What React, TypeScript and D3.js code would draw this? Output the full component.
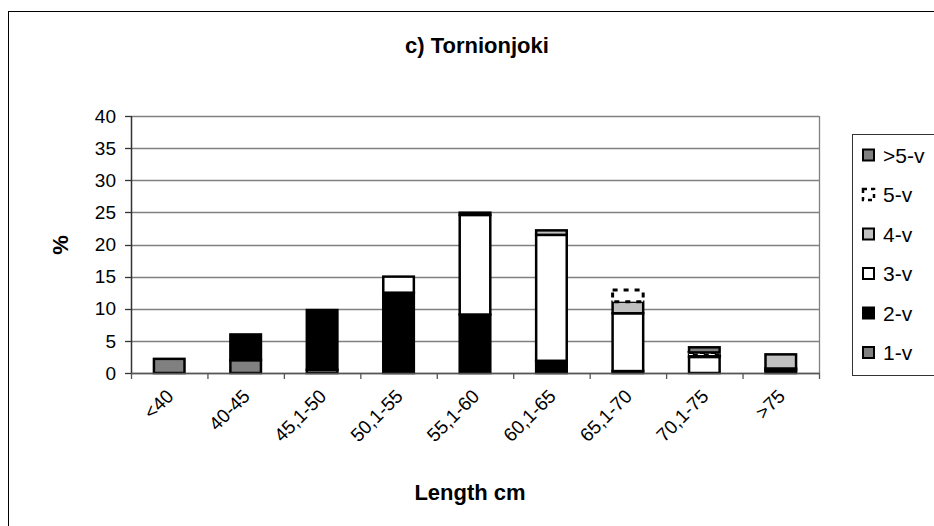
import React from "react";
import * as d3 from "d3";

const categories = ["<40", "40-45", "45,1-50", "50,1-55", "55,1-60", "60,1-65", "65,1-70", "70,1-75", ">75"];
const series = ["1-v", "2-v", "3-v", "4-v", "5-v", ">5-v"];
const v1 = [2.2, 2.0, 0.5, 0, 0, 0, 0, 0, 0];
const v2 = [0, 4.0, 9.3, 12.5, 9.1, 1.9, 0.3, 0, 0.4];
const v3 = [0, 0, 0, 2.5, 15.5, 19.6, 9.0, 2.5, 0.3];
const v4 = [0, 0, 0, 0, 0.35, 0.7, 1.8, 0.3, 2.2];
const v5 = [0, 0, 0, 0, 0, 0, 1.8, 0.4, 0];
const v6 = [0, 0, 0, 0, 0, 0, 0, 0.8, 0];
const yTicks = [0, 5, 10, 15, 20, 25, 30, 35, 40];

const fills = ["#808080", "#000000", "#ffffff", "#c0c0c0", "#ffffff", "#808080"];

export default function App() {
  const W = 934, H = 526;
  const left = 131, right = 819, top = 116, bottom = 373;
  const x = d3.scaleBand().domain(categories).range([left, right]).paddingInner(0.6).paddingOuter(0.3);
  const y = d3.scaleLinear().domain([0, 40]).range([bottom, top]);
  const step = x.step();

  const rows = categories.map((c, i) => ({ cat: c, "1-v": v1[i], "2-v": v2[i], "3-v": v3[i], "4-v": v4[i], "5-v": v5[i], ">5-v": v6[i] }));
  const stacked = d3.stack().keys(series)(rows as any);

  const font = "'Liberation Sans', Arial, sans-serif";
  const legendOrder = [5, 4, 3, 2, 1, 0];

  return (
    <svg width={W} height={H} style={{ position: "absolute", left: 0, top: 0, background: "#fff" }} fontFamily={font}>
      <rect x={8.5} y={11.5} width={1000} height={600} fill="#fff" stroke="#000" strokeWidth={1} />
      <text x={477} y={53} textAnchor="middle" fontSize={22} fontWeight="bold">c) Tornionjoki</text>
      {/* gridlines */}
      {yTicks.map((t) => (
        <line key={t} x1={left} x2={right} y1={Math.round(y(t)) + 0.5} y2={Math.round(y(t)) + 0.5} stroke="#808080" strokeWidth={1.3} />
      ))}
      <line x1={right + 0.5} x2={right + 0.5} y1={top} y2={bottom} stroke="#808080" strokeWidth={1.3} />
      {/* bars */}
      {stacked.map((s, si) => (
        <g key={series[si]}>
          {s.map((d, ci) => {
            const h = d[1] - d[0];
            if (h <= 0) return null;
            const bx = x(categories[ci])!;
            const y0 = y(d[0]), y1 = y(d[1]);
            return (
              <rect key={ci} x={bx} y={y1} width={x.bandwidth()} height={y0 - y1}
                fill={fills[si]} stroke="#000" strokeWidth={si === 4 ? 3 : 2.5}
                strokeDasharray={si === 4 ? "5 6" : undefined} />
            );
          })}
        </g>
      ))}
      {/* axes */}
      <line x1={left + 0.5} x2={left + 0.5} y1={top} y2={bottom} stroke="#333" strokeWidth={1.5} />
      <line x1={left} x2={right} y1={bottom + 0.5} y2={bottom + 0.5} stroke="#555" strokeWidth={1.5} />
      {yTicks.map((t) => (
        <g key={t}>
          <line x1={left - 6} x2={left} y1={Math.round(y(t)) + 0.5} y2={Math.round(y(t)) + 0.5} stroke="#333" strokeWidth={1.3} />
          <text x={left - 15} y={y(t)} dy="0.35em" textAnchor="end" fontSize={19}>{t}</text>
        </g>
      ))}
      {d3.range(categories.length + 1).map((i) => (
        <line key={i} x1={left + i * step + 0.5} x2={left + i * step + 0.5} y1={bottom} y2={bottom + 6} stroke="#555" strokeWidth={1.3} />
      ))}
      {categories.map((c) => {
        const cx = x(c)! + x.bandwidth() / 2 - 4;
        const cy = bottom + 15;
        return (
          <text key={c} transform={`translate(${cx},${cy}) rotate(-45)`} textAnchor="end" dy="0.7em" fontSize={19}>{c}</text>
        );
      })}
      <text x={470} y={500} textAnchor="middle" fontSize={22} fontWeight="bold">Length cm</text>
      <text transform={`translate(68,245) rotate(-90)`} textAnchor="middle" fontSize={22} fontWeight="bold">%</text>
      {/* legend */}
      <rect x={852.5} y={134.5} width={200} height={241} fill="#fff" stroke="#333" strokeWidth={1} />
      {legendOrder.map((si, k) => {
        const cy = 155 + k * 39.5;
        return (
          <g key={si}>
            <rect x={863} y={cy - 5.5} width={11} height={11} fill={fills[si]} stroke="#000" strokeWidth={si === 4 ? 2.5 : 2}
              strokeDasharray={si === 4 ? "4 4" : undefined} />
            <text x={883} y={cy} dy="0.36em" fontSize={21}>{series[si]}</text>
          </g>
        );
      })}
    </svg>
  );
}
